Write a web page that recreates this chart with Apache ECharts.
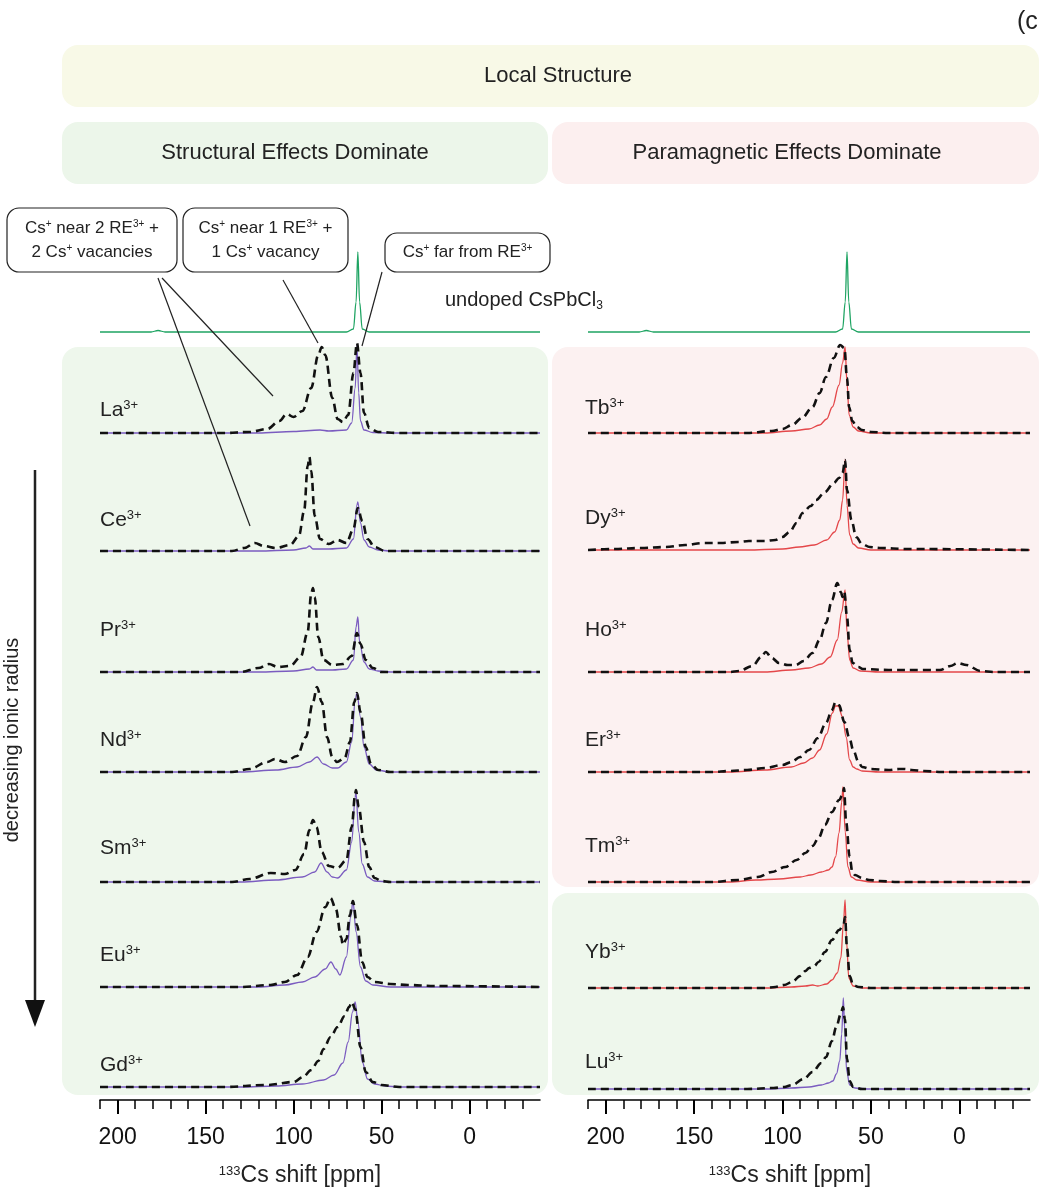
<!DOCTYPE html>
<html><head><meta charset="utf-8">
<script src="https://cdn.jsdelivr.net/npm/echarts@6/dist/echarts.min.js"></script>
<style>html,body{margin:0;padding:0;background:#fff}#c{width:1039px;height:1192px}</style>
</head><body><div id="c"></div>
<script>
// tick labels
const majorTicks = [200, 150, 100, 50, 0];
const minorTicks = [210,200,190,180,170,160,150,140,130,120,110,100,90,80,70,60,50,40,30,20,10,0,-10,-20,-30];
// rows (top to bottom)
const leftIons = ['La','Ce','Pr','Nd','Sm','Eu','Gd'];
const rightIons = ['Tb','Dy','Ho','Er','Tm','Yb','Lu'];
// undoped CsPbCl3 reference: [ppm, height]
const undoped = [[210,0],[181,0],[177,1.5],[173,0],[70,0],[66,3],[64.5,30],[63.5,80],[62.5,30],[61,3],[57,0],[-40,0]];
// left panel spectra: dashed (REE doped, experimental) and solid (fit)
const La_d = [[210,0],[140,0],[125,1],[115,4],[108,12],[104,19],[100,16],[95,22],[90,45],[86,78],[84,86],[82,78],[78,35],[75,14],[72,11],[69,18],[66,60],[64,90],[62,60],[60,20],[57,5],[52,1],[40,0],[-40,0]];
const La_s = [[210,0],[120,0],[100,1.5],[85,3],[80,2],[70,3],[67,10],[65,45],[64,88],[63,40],[62,12],[60,3],[55,0.5],[45,0],[-40,0]];
const Ce_d = [[210,0],[135,0],[128,3],[122,8],[117,5],[110,3],[102,6],[97,15],[94,40],[92,85],[91,94],[90,80],[88,35],[85,12],[80,7],[75,11],[70,8],[66,22],[63.5,43],[61,30],[58,12],[54,4],[48,0],[-40,0]];
const Ce_s = [[210,0],[120,0],[100,1],[93,3],[91,5],[89,2],[80,2],[70,3],[66,12],[64,46],[63.5,49],[62,28],[60,11],[57,4],[52,1],[45,0],[-40,0]];
const Pr_d = [[210,0],[130,0],[120,4],[114,8],[109,5],[102,6],[96,15],[92,40],[90,78],[89,84],[88,75],[86,35],[83,12],[78,7],[72,8],[67,16],[64,39],[62,28],[59,12],[55,4],[50,0],[-40,0]];
const Pr_s = [[210,0],[120,0],[100,1],[91,3],[89,5],[87,2],[78,2],[70,3],[66,12],[64.5,45],[63.5,55],[62.5,30],[60,10],[57,3],[52,1],[45,0],[-40,0]];
const Nd_d = [[210,0],[135,0],[125,3],[115,10],[110.5,13],[105,10],[98,16],[93,35],[89,70],[86.7,85],[84,70],[81,35],[78,15],[75.4,10],[71,14],[68,30],[65.5,70],[64,79],[62,60],[59,25],[56,8],[52,2],[45,0],[-40,0]];
const Nd_s = [[210,0],[130,0],[110,2],[98,5],[91,10],[86.7,15],[83,8],[78,4],[75,4],[70,10],[67,30],[65,72],[64,79],[62,55],[60,25],[57,8],[53,2],[45,0],[-40,0]];
const Sm_d = [[210,0],[135,0],[125,3],[113,9],[105,8],[99,12],[94,28],[91,52],[89,62],[87,55],[84,30],[80,16],[75,14],[70,22],[67,55],[65,88],[64.6,92],[63,75],[60,40],[57,15],[54,4],[50,1],[45,0],[-40,0]];
const Sm_s = [[210,0],[130,0],[110,2],[95,5],[88,10],[84.4,19],[81,10],[78,5],[75,4],[70,12],[67,40],[65,85],[64.6,90],[63,50],[61,18],[58,5],[54,1],[45,0],[-40,0]];
const Eu_d = [[210,0],[130,0],[113,2],[105,5],[98,12],[92,30],[87,55],[82,80],[79,89],[76,78],[73,50],[72,42],[70,48],[68,72],[66.3,86],[64,62],[61,25],[58,10],[54,5],[45,3],[35,2],[20,1],[-40,0]];
const Eu_s = [[210,0],[120,0],[105,2],[95,5],[88,10],[82,18],[78.8,25],[76,18],[73.7,12],[70,30],[67.5,70],[66.3,86],[64.5,55],[62,20],[59,6],[55,2],[45,0],[-40,0]];
const Gd_d = [[210,0],[140,0],[115,2],[100,5],[94.6,10],[90,17],[86,26],[83,38],[79,50],[75,60],[71,71],[68.5,80],[66.9,85],[65,78],[62,40],[59,15],[55,5],[50,2],[40,0],[-40,0]];
const Gd_s = [[210,0],[130,0],[110,1],[95,3],[83,7],[77,12],[72,24],[69,45],[66.5,75],[65,85],[63.5,65],[61,25],[58,8],[54,3],[48,1],[40,0],[-40,0]];
// right panel spectra
const Tb_d = [[210,0],[120,0],[106,2],[100,4],[94.6,8],[89,15],[83,26],[79,40],[75.4,56],[71,75],[67.4,88],[65,85],[63.5,55],[62.3,26],[60.5,12],[58,6],[55,3],[50,1],[40,0],[-40,0]];
const Tb_s = [[210,0],[110,0],[95,2],[85,4],[79,8],[75,14],[71.8,26],[68,48],[66,70],[64.6,86],[63.5,50],[62.3,18],[60,6],[57,2],[50,0],[-40,0]];
const Dy_d = [[210,0],[195,1],[180,2],[166,3],[155,5],[145,7],[135,7],[125,8],[119,9],[110,9],[104,10],[100,13],[96,18],[92,27],[88.6,37],[84,44],[81,50],[76,58],[71,67],[68,72],[66,77],[64.6,90],[63.5,60],[61,30],[58.3,13],[55,6],[50.7,3],[45,2],[30,1],[-40,0]];
const Dy_s = [[210,0],[120,0],[100,1],[90.5,3],[82,5],[75,10],[70.5,18],[67.6,30],[66,50],[64.6,90],[63.5,45],[62,15],[60,6],[57,2],[50,0],[-40,0]];
const Ho_d = [[210,0],[130,0],[124.6,1],[117,6],[112,15],[109.5,20],[106,14],[102,9],[97,7],[92.5,7],[88,11],[83,19],[79,32],[75.4,49],[72,72],[69,89],[67,80],[66,75],[65,80],[63.5,55],[62,22],[60.3,9],[57,5],[54.6,3],[40,2],[20,2],[11,2],[5,6],[0.8,9],[-4,7],[-12,1],[-20,0],[-40,0]];
const Ho_s = [[210,0],[110,0],[95,2],[85,4],[78,8],[73,15],[69,32],[66.5,60],[64.6,82],[63.5,40],[62,12],[60,4],[56,1],[45,0],[-40,0]];
const Er_d = [[210,0],[140,0],[130,1],[120,2],[110,4],[100,7],[95,10],[90,15],[85,22],[80,34],[75.4,49],[72,62],[70,70],[68,67],[65,50],[62,33],[60,22],[57,10],[55,5],[50,3],[40,2],[34,3],[31,3],[27,2],[20,1],[10,0],[-40,0]];
const Er_s = [[210,0],[130,0],[110,2],[95,5],[88,9],[83,14],[79,22],[75,38],[71.8,59],[70,66],[68.5,66],[66,55],[64,35],[62,12],[60,5],[58,3],[55,1],[45,0],[-40,0]];
const Tm_d = [[210,0],[140,0],[125,2],[114,5],[106,10],[98.4,15],[92,22],[87,29],[83,36],[79.6,44],[76,57],[72,70],[68,82],[65.8,88],[65.2,94],[64,60],[62,25],[60.5,10],[59,7],[55,4],[51,2],[45,1],[35,0],[-40,0]];
const Tm_s = [[210,0],[130,0],[115,2],[102,3],[90,5],[84,7],[78,10],[74,12],[72,15],[70,25],[68,49],[66.5,80],[65.8,95],[64.5,50],[63,15],[61,5],[58,2],[50,0],[-40,0]];
const Yb_d = [[210,0],[130,0],[110,0],[104,1],[99,3],[94.6,6],[90,12],[87,17],[85,20],[82,22],[79.6,26],[76,36],[72,48],[68,58],[65.5,63],[64.6,71],[63.5,40],[62,12],[60,3],[57,1],[50,0],[-40,0]];
const Yb_s = [[210,0],[110,0],[95,1],[87,2],[83,3],[80,2],[75,4],[72,8],[69,15],[67,30],[65.5,65],[64.6,88],[63.7,45],[62.5,10],[60,2],[55,0],[-40,0]];
const Lu_d = [[210,0],[120,0],[105,1],[99,2],[94.6,4],[88,10],[83,17],[78,26],[75.4,32],[72,48],[69.6,62],[67,75],[65.8,82],[64.7,70],[63.5,30],[62,8],[60,2],[55,0],[-40,0]];
const Lu_s = [[210,0],[110,0],[95,1],[85,2],[78,4],[74,6],[71.5,8],[69.5,15],[67.6,28],[66.5,55],[65.6,91],[64.8,60],[63.7,18],[62,4],[59,1],[52,0],[-40,0]];

const leftD = [La_d,Ce_d,Pr_d,Nd_d,Sm_d,Eu_d,Gd_d];
const leftS = [La_s,Ce_s,Pr_s,Nd_s,Sm_s,Eu_s,Gd_s];
const rightD = [Tb_d,Dy_d,Ho_d,Er_d,Tm_d,Yb_d,Lu_d];
const rightS = [Tb_s,Dy_s,Ho_s,Er_s,Tm_s,Yb_s,Lu_s];

// layout (pixels)
const AXIS_Y = 1100, TOP = 240;
const leftBase = [433,551,672,772,882,987,1087];
const rightBase = [433,550,672,772,882,988,1089];
const undopedBase = 332;
const rightSolidColors = ['#e4474a','#e4474a','#e4474a','#e4474a','#e4474a','#e4474a','#7b5cc0'];
const PURPLE = '#7b5cc0', GREEN = '#1fa463';

const chart = echarts.init(document.getElementById('c'));
const FONT = 'Liberation Sans, Arial, sans-serif';

function xAxes(gi){
  return [
    {type:'value',gridIndex:gi,inverse:true,min:-40,max:210,position:'bottom',
     axisLine:{show:true,lineStyle:{color:'#000',width:1.5}},splitLine:{show:false},
     axisTick:{show:true,inside:false,length:14,lineStyle:{color:'#000',width:2},customValues:majorTicks},
     axisLabel:{show:true,customValues:majorTicks,fontSize:23,color:'#111',margin:26,fontFamily:FONT}},
    {type:'value',gridIndex:gi,inverse:true,min:-40,max:210,position:'bottom',
     axisLine:{show:false},splitLine:{show:false},
     axisTick:{show:true,inside:false,length:9,lineStyle:{color:'#000',width:1.5},customValues:minorTicks},
     axisLabel:{show:false}}
  ];
}
const series = [];
function addLine(data, base, xi, yi, color, dashed){
  const off = AXIS_Y - base;
  series.push({type:'line',xAxisIndex:xi,yAxisIndex:yi,showSymbol:false,smooth:0.35,
    smoothMonotone:'x',silent:true,z:dashed?4:3,
    lineStyle:{color:color,width:dashed?2.6:1.3,type:dashed?[8,5]:'solid'},
    data:data.map(p=>[p[0],p[1]+off])});
}
addLine(undoped, undopedBase, 0, 0, GREEN, false);
addLine(undoped, undopedBase, 2, 1, GREEN, false);
for(let i=0;i<7;i++){
  addLine(leftS[i], leftBase[i], 0, 0, PURPLE, false);
  addLine(leftD[i], leftBase[i], 0, 0, '#111', true);
  addLine(rightS[i], rightBase[i], 2, 1, rightSolidColors[i], false);
  addLine(rightD[i], rightBase[i], 2, 1, '#111', true);
}

const g = [];
function rect(x,y,w,h,fill){g.push({type:'rect',shape:{x,y,width:w,height:h,r:16},style:{fill},z:-10,silent:true});}
rect(62,45,977,62,'#f8f9e7');
rect(62,122,486,62,'#ecf6ea');
rect(552,122,487,62,'#fcefef');
rect(62,347,486,748,'#eef7ec');
rect(552,347,487,540,'#fcf1f1');
rect(552,893,487,202,'#eef7ec');
function txt(x,y,t,size,align,extra){g.push(Object.assign({type:'text',x,y,style:Object.assign({text:t,fontSize:size,fill:'#222',fontFamily:FONT,align:align||'left',verticalAlign:'middle'},extra||{}),z:10}));}
txt(558,76,'Local Structure',22,'center');
txt(295,153,'Structural Effects Dominate',22,'center');
txt(787,153,'Paramagnetic Effects Dominate',22,'center');
txt(1017,22,'(c',25,'left');
function ion(x,y,name){
  g.push({type:'text',x,y,z:10,style:{text:'{a|'+name+'}{s|3+}',verticalAlign:'middle',fontFamily:FONT,
    rich:{a:{fontSize:21,fill:'#222',fontFamily:FONT},s:{fontSize:13,fill:'#222',fontFamily:FONT,verticalAlign:'top',padding:[0,0,10,0]}}}});
}
const leftLabelY = [410,520,630,740,848,955,1065];
const rightLabelY = [408,518,630,740,846,952,1062];
for(let i=0;i<7;i++){ion(100,leftLabelY[i],leftIons[i]);ion(585,rightLabelY[i],rightIons[i]);}
g.push({type:'text',x:445,y:300,z:10,style:{text:'{a|undoped CsPbCl}{s|3}',verticalAlign:'middle',fontFamily:FONT,
  rich:{a:{fontSize:20,fill:'#222',fontFamily:FONT},s:{fontSize:12,fill:'#222',fontFamily:FONT,padding:[12,0,0,0]}}}});
function box(x,y,w,h,lines){
  g.push({type:'rect',shape:{x,y,width:w,height:h,r:12},style:{fill:'#fff',stroke:'#222',lineWidth:1.2},z:8});
  g.push({type:'text',x:x+w/2,y:y+h/2,z:10,style:{text:lines,align:'center',verticalAlign:'middle',fontFamily:FONT,lineHeight:24,
    rich:{a:{fontSize:17,fill:'#222',fontFamily:FONT,lineHeight:24},s:{fontSize:10,fill:'#222',fontFamily:FONT,padding:[0,0,8,0],lineHeight:24}}}});
}
box(7,208,170,64,'{a|Cs}{s|+}{a| near 2 RE}{s|3+}{a| +}\n{a|2 Cs}{s|+}{a| vacancies}');
box(183,208,165,64,'{a|Cs}{s|+}{a| near 1 RE}{s|3+}{a| +}\n{a|1 Cs}{s|+}{a| vacancy}');
box(385,233,165,39,'{a|Cs}{s|+}{a| far from RE}{s|3+}');
function seg(x1,y1,x2,y2,w){g.push({type:'line',shape:{x1,y1,x2,y2},style:{stroke:'#222',lineWidth:w||1.2},z:7});}
seg(162,278,273,396);
seg(158,278,250,526);
seg(283,280,318,343);
seg(382,272,362,346);
seg(35,470,35,1010,2.5);
g.push({type:'polygon',shape:{points:[[25,1000],[45,1000],[35,1027]]},style:{fill:'#111'},z:7});
g.push({type:'text',x:12,y:740,rotation:Math.PI/2,z:10,style:{text:'decreasing ionic radius',fontSize:20,fill:'#222',fontFamily:FONT,align:'center',verticalAlign:'middle'}});
function axTitle(x){g.push({type:'text',x,y:1176,z:10,style:{text:'{s|133}{a|Cs shift [ppm]}',align:'center',verticalAlign:'middle',fontFamily:FONT,
  rich:{a:{fontSize:23,fill:'#222',fontFamily:FONT},s:{fontSize:13,fill:'#222',fontFamily:FONT,padding:[0,0,10,0]}}}});}
axTitle(300); axTitle(790);

chart.setOption({
  animation:false,
  backgroundColor:'#fff',
  grid:[{left:100,width:440,top:TOP,bottom:1192-AXIS_Y},{left:588,width:442,top:TOP,bottom:1192-AXIS_Y}],
  xAxis:[...xAxes(0),...xAxes(1)],
  yAxis:[{type:'value',gridIndex:0,min:0,max:AXIS_Y-TOP,show:false},{type:'value',gridIndex:1,min:0,max:AXIS_Y-TOP,show:false}],
  series,
  graphic:g
});
</script></body></html>
